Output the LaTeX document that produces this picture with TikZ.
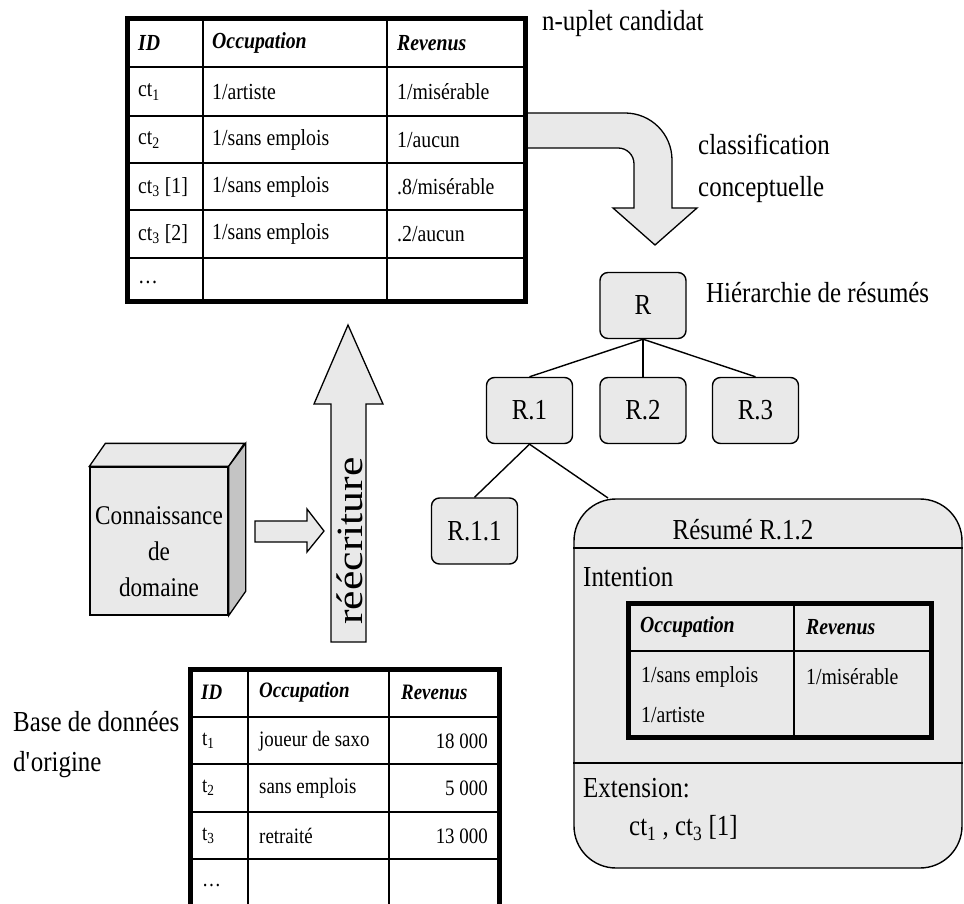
\documentclass[tikz,border=0pt]{standalone}
\usepackage{fontspec}
\setmainfont{Liberation Serif}[FakeStretch=0.86]
\newfontfamily\widefont{Liberation Serif}[FakeStretch=1.18]
\definecolor{boxgray}{HTML}{E9E9E9}
\definecolor{sidegray}{HTML}{C4C4C4}
\tikzset{
  lbl/.style={inner sep=0pt, font=\fontsize{29}{33}\selectfont},
  cell/.style={inner sep=0pt, anchor=west, font=\fontsize{23}{26}\selectfont},
  hcell/.style={cell, font=\fontsize{23}{26}\selectfont\bfseries\itshape},
  bcell/.style={inner sep=0pt, anchor=west, font=\fontsize{22}{25}\selectfont},
  bhcell/.style={bcell, font=\fontsize{22}{25}\selectfont\bfseries\itshape},
  tabframe/.style={draw, line width=5pt, inner sep=0pt},
  grid/.style={line width=1.3pt},
  tnode/.style={draw, fill=boxgray, rounded corners=8pt, line width=1.4pt,
    minimum width=86pt, minimum height=66pt, inner sep=0pt,
    font=\fontsize{29}{33}\selectfont},
  edge/.style={line width=1.4pt},
  blockarrow/.style={draw, fill=boxgray, line width=1.3pt, line join=miter},
}
\begin{document}
\begin{tikzpicture}[x=1pt,y=-1pt]
\path[use as bounding box] (0,0) rectangle (964,904);

% curved block arrow leaving the candidate table
\path[blockarrow] (515,113) -- (625,113) .. controls (651,113) and (672,134) .. (672,160)
  -- (672,208) -- (697,208) -- (655,245) -- (613,208) -- (634,208) -- (634,164)
  .. controls (634,155) and (627,148) .. (618,148) -- (515,148) -- cycle;

% candidate tuples table
\node[tabframe, fill=white, minimum width=398pt, minimum height=282pt] (cand) at (326,160) {};
\foreach \xx in {203,387} \draw[grid] (\xx,19) -- (\xx,301);
\foreach \yy in {67,116,163,210,258} \draw[grid] (127,\yy) -- (525,\yy);
\node[tabframe, minimum width=398pt, minimum height=282pt] (candb) at (326,160) {};
\node[hcell] (c00) at (138,43) {ID};
\node[hcell] (c01) at (212,43) {Occupation};
\node[hcell] (c02) at (397,43) {Revenus};
\node[cell] (c10) at (138,92) {ct\textsubscript{1}};
\node[cell] (c11) at (212,92) {1/artiste};
\node[cell] (c12) at (397,92) {1/misérable};
\node[cell] (c20) at (138,140) {ct\textsubscript{2}};
\node[cell] (c21) at (212,140) {1/sans emplois};
\node[cell] (c22) at (397,140) {1/aucun};
\node[cell] (c30) at (138,187) {ct\textsubscript{3} [1]};
\node[cell] (c31) at (212,187) {1/sans emplois};
\node[cell] (c32) at (397,187) {.8/misérable};
\node[cell] (c40) at (138,234) {ct\textsubscript{3} [2]};
\node[cell] (c41) at (212,234) {1/sans emplois};
\node[cell] (c42) at (397,234) {.2/aucun};
\node[cell] (c50) at (138,282) {\dots};
\node[lbl, anchor=west] (candlbl) at (542,24) {n-uplet candidat};

% classification label
\node[lbl, anchor=west, align=left, font=\fontsize{29}{42}\selectfont] (classlbl) at (698,168)
  {classification\\conceptuelle};

% hierarchy of summaries
\node[tnode] (R) at (643,305.5) {R};
\node[lbl, anchor=west] (hierlbl) at (706,293) {Hiérarchie de résumés};
\node[tnode] (R1) at (529.5,410.5) {R.1};
\node[tnode] (R2) at (643,410.5) {R.2};
\node[tnode] (R3) at (755.5,410.5) {R.3};
\node[tnode] (R11) at (474.5,531) {R.1.1};
\draw[edge] (R.south) -- (R1.north);
\draw[edge] (R.south) -- (R2.north);
\draw[edge] (R.south) -- (R3.north);
\draw[edge] (R1.south) -- (R11.north);

% summary R.1.2
\node[draw, fill=boxgray, rounded corners=42pt, line width=1.4pt,
  minimum width=388pt, minimum height=369pt, inner sep=0pt] (res) at (768,683.5) {};
\coordinate (resin) at (608,498);
\draw[edge] (R1.south) -- (resin);
\coordinate (cut1) at (0,548);
\coordinate (cut2) at (0,763);
\draw[grid] (res.west |- cut1) -- (res.east |- cut1);
\draw[grid] (res.west |- cut2) -- (res.east |- cut2);
\node[lbl] (restitle) at (743,530) {Résumé R.1.2};
\node[lbl, anchor=west] (intlbl) at (583,577) {Intention};
\node[tabframe, minimum width=303pt, minimum height=134pt] (inttab) at (779.5,670) {};
\draw[grid] (794,603) -- (794,737);
\draw[grid] (628,651) -- (931,651);
\node[hcell] (i01) at (640,627) {Occupation};
\node[hcell] (i02) at (806,627) {Revenus};
\node[cell] (i11) at (641,677) {1/sans emplois};
\node[cell] (i21) at (641,715) {1/artiste};
\node[cell] (i12) at (806,677) {1/misérable};
\node[lbl, anchor=west] (extlbl) at (583,788) {Extension:};
\node[lbl, anchor=west] (extval) at (629,828) {ct\textsubscript{1} , ct\textsubscript{3} [1]};

% domain knowledge cube
\node[draw, fill=boxgray, line width=1.3pt, minimum width=138pt, minimum height=148pt,
  inner sep=0pt] (know) at (159,541) {};
\path[draw, fill=boxgray, line width=1.3pt, line join=miter]
  (know.north west) -- ++(16,-23) -- ++(139,0) -- (know.north east) -- cycle;
\path[draw, fill=sidegray, line width=1.3pt, line join=miter]
  (know.north east) -- ++(17,-23) -- ++(0,148) -- (know.south east) -- cycle;
\node[align=center, inner sep=0pt, font=\fontsize{27}{36}\selectfont] (knowtxt) at (159,552)
  {Connaissance\\de\\domaine};

% small block arrow into the rewriting step
\path[blockarrow] (255,521) -- (307,521) -- (307,509) -- (324,531) -- (307,552)
  -- (307,542) -- (255,542) -- cycle;

% rewriting arrow
\path[blockarrow] (331,642) -- (331,404) -- (314,404) -- (348,325) -- (383,404)
  -- (366,404) -- (366,642) -- cycle;
\node[rotate=90, inner sep=0pt, font=\widefont\fontsize{37}{40}\selectfont] (rewr) at (350,541) {réécriture};

% original database
\node[lbl, anchor=west, align=left, font=\fontsize{29}{40}\selectfont] (dblbl) at (13,745)
  {Base de données\\d\textquotesingle origine};
\node[tabframe, fill=white, minimum width=309pt, minimum height=246pt] (orig) at (344.5,792) {};
\foreach \xx in {248,389} \draw[grid] (\xx,669) -- (\xx,915);
\foreach \yy in {717,764,812,859} \draw[grid] (190,\yy) -- (499,\yy);
\node[tabframe, minimum width=309pt, minimum height=246pt] (origb) at (344.5,792) {};
\node[bhcell] (o00) at (201,692) {ID};
\node[bhcell] (o01) at (259,692) {Occupation};
\node[bhcell] (o02) at (401,692) {Revenus};
\node[bcell] (o10) at (202,741) {t\textsubscript{1}};
\node[bcell] (o11) at (259,741) {joueur de saxo};
\node[bcell, anchor=east] (o12) at (488,741) {18 000};
\node[bcell] (o20) at (202,788) {t\textsubscript{2}};
\node[bcell] (o21) at (259,788) {sans emplois};
\node[bcell, anchor=east] (o22) at (488,788) {5 000};
\node[bcell] (o30) at (202,836) {t\textsubscript{3}};
\node[bcell] (o31) at (259,836) {retraité};
\node[bcell, anchor=east] (o32) at (488,836) {13 000};
\node[bcell] (o40) at (202,886) {\dots};
\end{tikzpicture}
\end{document}
